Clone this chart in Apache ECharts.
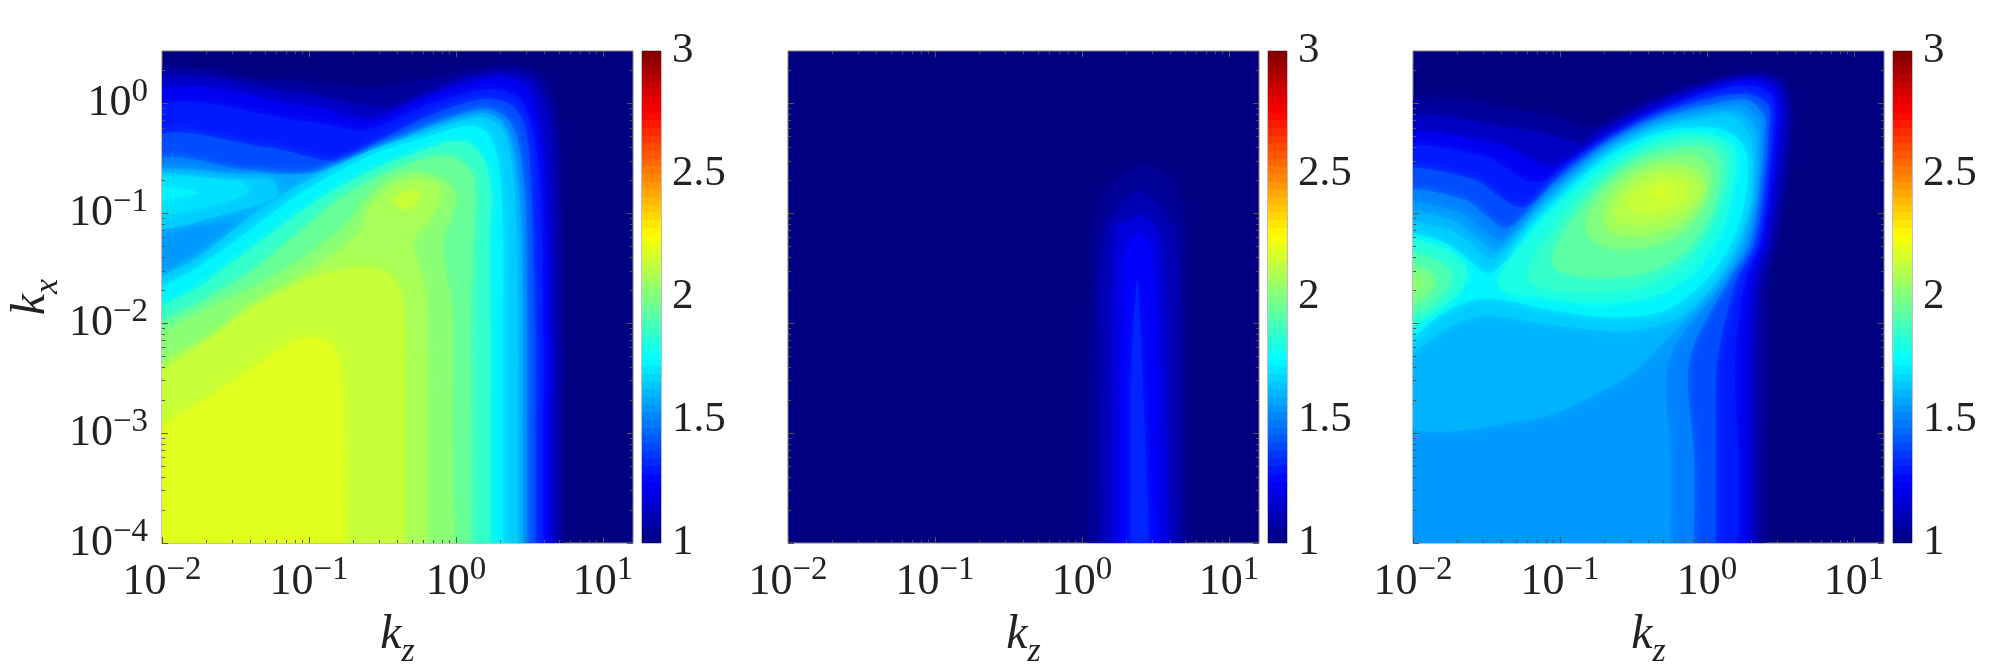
<!DOCTYPE html>
<html>
<head>
<meta charset="utf-8">
<style>
  html, body { margin: 0; background: #fff; }
  #chart { width: 2000px; height: 670px; }
</style>
<script src="https://cdn.jsdelivr.net/npm/echarts@6/dist/echarts.min.js"></script>
</head>
<body>
<div id="chart"></div>
<script>
// all contour points are [log10(kz), log10(kx)]
const kzTicks = [-2, -1, 0, 1]
const kxTicks = [-4, -3, -2, -1, 0]
const colorMax = [3]

const leftLevels = [1.05, 1.13, 1.22, 1.3, 1.4, 1.5, 1.58, 1.55, 1.65, 1.69, 1.73, 1.65, 1.73, 1.85, 1.95, 2.02, 2.08, 2.14, 2.14, 2.19]
const leftContours = [
  [[-2.1,.21],[-1.28,.21],[-.53,.13],[-.23,.21],[.075,.285],[.38,.32],[.56,.27],[.65,.09],[.695,-.245],[.715,-.85],[.725,-2.06],[.725,-3],[.725,-4],[.725,-4.8],[-2.8,-4.8]],
  [[-2.1,.12],[-1.1,.1],[-.6,-.03],[-.4,-.03],[-.2,.09],[.075,.23],[.33,.28],[.52,.22],[.6,.05],[.65,-.25],[.67,-.85],[.68,-2.06],[.68,-3],[.68,-4],[.68,-4.8],[-2.8,-4.8]],
  [[-2.1,.01],[-.98,-.03],[-.59,-.15],[-.23,.04],[.075,.18],[.29,.24],[.47,.16],[.54,-.03],[.6,-.55],[.635,-2.06],[.635,-3],[.635,-4],[.635,-4.8],[-2.8,-4.8]],
  [[-2.1,-.13],[-.98,-.17],[-.68,-.245],[-.53,-.215],[-.23,-.03],[.075,.10],[.255,.13],[.42,.06],[.51,-.18],[.57,-.7],[.595,-2.06],[.595,-3],[.595,-4],[.595,-4.8],[-2.8,-4.8]],
  [[-2.1,-.38],[-1.28,-.4],[-.83,-.53],[-.68,-.47],[-.53,-.35],[-.23,-.14],[.075,.01],[.225,.04],[.38,-.02],[.47,-.215],[.51,-.7],[.54,-2.06],[.54,-3],[.54,-4],[.54,-4.8],[-2.8,-4.8]],
  [[-2.1,-.58],[-1.4,-.61],[-.98,-.67],[-.8,-.61],[-.53,-.455],[-.23,-.23],[.075,-.08],[.225,-.05],[.35,-.14],[.42,-.335],[.47,-.85],[.485,-2.06],[.485,-3],[.485,-4],[.485,-4.8],[-2.8,-4.8]],
  [[-2.1,-.64],[-1.43,-.64],[-1.01,-.64],[-.8,-.56],[-.53,-.425],[-.23,-.245],[.075,-.11],[.21,-.09],[.32,-.18],[.39,-.425],[.44,-1],[.455,-2.06],[.455,-3],[.455,-4],[.455,-4.8],[-2.8,-4.8],[-2.8,-1.9],[-2.1,-1.62],[-1.8,-1.38],[-1.55,-1.2],[-1.39,-1.08],[-2.1,-1.18]],
  [[-2.1,-1.2],[-1.42,-1.1],[-1.56,-1.2],[-1.8,-1.38],[-2.1,-1.6]],
  [[-2.1,-.66],[-1.59,-.69],[-1.25,-.7],[-1.22,-.85],[-1.55,-1],[-2.1,-1.13]],
  [[-2.1,-.7],[-1.457,-.71],[-1.416,-.81],[-1.706,-.945],[-2.1,-1]],
  [[-2.1,-.76],[-1.75,-.81],[-2.1,-.88]],
  [[-2.1,-1.72],[-1.74,-1.39],[-1.4,-1.03],[-1.13,-.79],[-.83,-.58],[-.53,-.4],[-.23,-.275],[.045,-.155],[.195,-.13],[.32,-.245],[.38,-.547],[.41,-1.15],[.42,-2.06],[.42,-3],[.42,-4],[.42,-4.8],[-2.8,-4.8]],
  [[-2.1,-1.82],[-1.74,-1.48],[-1.4,-1.15],[-1.13,-.88],[-.83,-.64],[-.53,-.445],[-.23,-.32],[.015,-.22],[.14,-.21],[.23,-.3],[.29,-.547],[.32,-1.15],[.32,-2.06],[.32,-3],[.32,-4],[.32,-4.8],[-2.8,-4.8]],
  [[-2.1,-1.98],[-1.74,-1.665],[-1.4,-1.33],[-1.13,-1.06],[-.83,-.79],[-.53,-.58],[-.23,-.43],[-.02,-.345],[.105,-.38],[.2,-.55],[.24,-.87],[.225,-1.15],[.23,-2.06],[.23,-3],[.23,-4],[.23,-4.8],[-2.8,-4.8]],
  [[-2.1,-2.12],[-1.74,-1.815],[-1.4,-1.54],[-1.04,-1.15],[-.8,-.88],[-.53,-.67],[-.26,-.52],[-.045,-.48],[.1,-.61],[.13,-.87],[.12,-1.15],[.1,-2.06],[.105,-3],[.105,-4],[.105,-4.8],[-2.8,-4.8]],
  [[-2.1,-2.24],[-1.706,-1.88],[-1.367,-1.67],[-1.027,-1.4],[-.733,-1.096],[-.62,-.884],[-.462,-.703],[-.28,-.627],[-.077,-.703],[.002,-.854],[-.054,-1.096],[-.1,-1.248],[-.077,-1.49],[-.03,-1.88],[-.03,-3],[-.015,-4],[-.015,-4.8],[-2.8,-4.8]],
  [[-2.1,-2.5],[-1.59,-2.06],[-1.457,-1.88],[-1.14,-1.64],[-.824,-1.37],[-.643,-1.157],[-.586,-.945],[-.439,-.763],[-.258,-.688],[-.122,-.748],[-.104,-.87],[-.19,-1.066],[-.292,-1.248],[-.258,-1.46],[-.213,-1.7],[-.2,-2.3],[-.2,-3],[-.2,-4],[-.2,-4.8],[-2.8,-4.8]],
  [[-2.1,-2.6],[-1.74,-2.21],[-1.42,-1.9],[-.98,-1.59],[-.68,-1.5],[-.47,-1.54],[-.37,-1.755],[-.35,-2.36],[-.35,-3.2],[-.35,-4],[-.35,-4.8],[-2.8,-4.8]],
  [[-.428,-.9],[-.371,-.824],[-.258,-.794],[-.247,-.87],[-.337,-.96]],
  [[-2.1,-3.08],[-1.59,-2.6],[-1.1,-2.16],[-.98,-2.13],[-.85,-2.19],[-.79,-2.39],[-.76,-3],[-.755,-4],[-.755,-4.8],[-2.8,-4.8]]
]

const midLevels = [1.04, 1.1, 1.18, 1.24, 1.32]
const midContours = [
  [[.04,-4.8],[.04,-4],[.05,-2.5],[.08,-1.2],[.148,-.826],[.282,-.64],[.43,-.567],[.577,-.64],[.67,-.863],[.7,-1.2],[.706,-2.5],[.706,-4],[.706,-4.8]],
  [[.12,-4.8],[.12,-4],[.12,-2.5],[.12,-1.566],[.175,-1.12],[.282,-.9],[.39,-.807],[.5,-.9],[.62,-1.12],[.66,-1.6],[.66,-2.5],[.66,-4],[.66,-4.8]],
  [[.2,-4.8],[.2,-4],[.205,-2.5],[.23,-1.12],[.295,-1.085],[.384,-1.03],[.483,-1.1],[.54,-1.34],[.57,-2.5],[.59,-4],[.59,-4.8]],
  [[.26,-4.8],[.26,-4],[.26,-3],[.27,-1.94],[.295,-1.34],[.384,-1.18],[.456,-1.27],[.497,-1.75],[.52,-3],[.53,-4],[.53,-4.8]],
  [[.33,-4.8],[.33,-4],[.33,-3],[.34,-2.3],[.376,-1.6],[.4,-2.12],[.43,-3.05],[.456,-4],[.456,-4.8]]
]

const rightLevels = [1.05, 1.13, 1.22, 1.3, 1.4, 1.5, 1.55, 1.6, 1.65, 1.73, 1.82, 1.9, 1.98, 2.02, 1.8, 1.85, 1.93, 2, 2.06, 2.1, 2.14, 2.17]
const rightContours = [
  [[-2.1,-.08],[-1.15,-.09],[-.77,-.215],[-.5,-.06],[-.18,.12],[.09,.22],[.355,.27],[.515,.22],[.57,-.01],[.56,-.49],[.48,-1.25],[.41,-1.61],[.4,-2.34],[.395,-3],[.395,-4],[.395,-4.8],[-2.8,-4.8]],
  [[-2.1,-.22],[-1.3,-.23],[-.95,-.33],[-.86,-.38],[-.74,-.26],[-.4,-.02],[.07,.185],[.34,.24],[.49,.18],[.535,-.06],[.52,-.49],[.43,-1.25],[.36,-1.61],[.33,-2.34],[.33,-3],[.33,-4],[.33,-4.8],[-2.8,-4.8]],
  [[-2.1,-.37],[-1.43,-.37],[-1.14,-.55],[-1.03,-.58],[-.72,-.32],[-.34,-.05],[.06,.15],[.33,.21],[.46,.13],[.5,-.12],[.47,-.49],[.39,-1.25],[.31,-1.61],[.27,-2.34],[.275,-3],[.275,-4],[.275,-4.8],[-2.8,-4.8]],
  [[-2.1,-.476],[-1.5,-.49],[-1.23,-.703],[-1.1,-.703],[-.94,-.55],[-.69,-.335],[-.34,-.08],[.06,.12],[.315,.16],[.45,.057],[.45,-.25],[.44,-.49],[.36,-1.25],[.26,-1.61],[.19,-2.34],[.21,-3.2],[.21,-4],[.21,-4.8],[-2.8,-4.8]],
  [[-2.1,-.67],[-1.59,-.688],[-1.41,-.854],[-1.28,-.945],[-1.19,-.915],[-1,-.657],[-.69,-.35],[-.34,-.11],[.06,.06],[.3,.08],[.42,-.02],[.42,-.25],[.41,-.49],[.33,-1.25],[.2,-1.61],[.07,-2.34],[.06,-3.2],[.06,-4],[.06,-4.8],[-2.8,-4.8]],
  [[-2.1,-.854],[-1.66,-.87],[-1.49,-1.036],[-1.37,-1.14],[-1.25,-1.036],[-1.05,-.75],[-.69,-.38],[-.34,-.14],[.06,0],[.275,.03],[.395,-.12],[.39,-.25],[.38,-.49],[.3,-1.25],[.145,-1.61],[-.12,-2.34],[-.09,-3.2],[-.09,-4],[-.09,-4.8],[-2.8,-4.8]],
  [[-2.1,-.96],[-1.71,-.975],[-1.525,-1.14],[-1.4,-1.25],[-1.28,-1.14],[-1.07,-.824],[-.69,-.41],[-.34,-.17],[.06,-.04],[.25,-.02],[.36,-.15],[.36,-.25],[.36,-.49],[.27,-1.25],[.115,-1.61],[-.26,-2.34],[-.25,-3.2],[-.25,-4],[-.25,-4.8],[-2.8,-4.8]],
  [[-2.1,-1.036],[-1.75,-1.05],[-1.57,-1.22],[-1.43,-1.34],[-1.3,-1.187],[-1.095,-.885],[-.69,-.44],[-.34,-.2],[.03,-.09],[.21,-.08],[.32,-.2],[.335,-.49],[.24,-1.25],[.08,-1.61],[-.416,-2.34],[-.61,-2.54],[-1.15,-2.86],[-2.1,-2.88]],
  [[-2.1,-1.13],[-1.77,-1.14],[-1.6,-1.28],[-1.47,-1.42],[-1.32,-1.26],[-1.106,-.945],[-.69,-.47],[-.34,-.23],[0,-.13],[.17,-.12],[.29,-.28],[.308,-.43],[.308,-.854],[.206,-1.28],[.036,-1.67],[-.19,-1.945],[-.552,-2.07],[-1.14,-2],[-1.5,-1.93],[-1.75,-2.03],[-2.1,-2.31]],
  [[-2.1,-1.22],[-1.82,-1.25],[-1.615,-1.43],[-1.49,-1.55],[-1.34,-1.4],[-1.23,-1.187],[-1.095,-.99],[-.69,-.5],[-.34,-.27],[-.054,-.218],[.127,-.25],[.23,-.355],[.274,-.49],[.262,-.854],[.172,-1.25],[-.009,-1.61],[-.281,-1.88],[-.64,-1.945],[-1.095,-1.87],[-1.37,-1.79],[-1.57,-1.78],[-1.8,-1.91],[-2.1,-2.19]],
  [[-2.1,-1.263],[-1.8,-1.31],[-1.65,-1.46],[-1.63,-1.58],[-1.71,-1.76],[-1.86,-1.91],[-2.1,-2.065]],
  [[-2.1,-1.37],[-1.84,-1.43],[-1.74,-1.55],[-1.77,-1.7],[-1.91,-1.87],[-2.1,-1.945]],
  [[-2.1,-1.46],[-1.91,-1.52],[-1.85,-1.61],[-1.91,-1.76],[-2.1,-1.85]],
  [[-2.1,-1.55],[-1.92,-1.63],[-2.1,-1.76]],
  [[-1.423,-1.61],[-1.253,-1.28],[-.982,-.885],[-.643,-.521],[-.326,-.31],[-.032,-.279],[.172,-.37],[.195,-.642],[.104,-1.157],[-.1,-1.55],[-.371,-1.76],[-.778,-1.82],[-1.163,-1.76],[-1.367,-1.717]],
  [[-1.22,-1.55],[-1.095,-1.248],[-.869,-.854],[-.597,-.552],[-.28,-.355],[-.009,-.325],[.138,-.43],[.138,-.703],[.014,-1.157],[-.19,-1.49],[-.462,-1.67],[-.869,-1.717],[-1.163,-1.657]],
  [[-1.05,-1.4],[-.937,-1.097],[-.733,-.764],[-.462,-.491],[-.19,-.4],[.014,-.4],[.093,-.552],[.048,-.945],[-.122,-1.308],[-.371,-1.52],[-.733,-1.58],[-1.005,-1.52]],
  [[-.824,-1.127],[-.733,-.854],[-.552,-.627],[-.326,-.506],[-.077,-.476],[.025,-.627],[-.02,-.915],[-.167,-1.172],[-.416,-1.308],[-.71,-1.293]],
  [[-.7,-1.006],[-.597,-.763],[-.394,-.597],[-.145,-.567],[-.02,-.688],[-.043,-.885],[-.19,-1.097],[-.416,-1.2],[-.643,-1.172]],
  [[-.631,-.975],[-.552,-.794],[-.371,-.642],[-.167,-.627],[-.054,-.733],[-.066,-.854],[-.19,-1.006],[-.416,-1.112],[-.597,-1.082]],
  [[-.541,-.9],[-.439,-.763],[-.281,-.688],[-.145,-.733],[-.133,-.839],[-.235,-.945],[-.416,-1.006],[-.518,-.96]],
  [[-.382,-.824],[-.314,-.779],[-.247,-.8],[-.314,-.854]]
]

const FONT = '"Liberation Serif", serif'
const TEXT = '#222'
const LINE = '#808080'

function jet(v) {
  const t = (v - 1) / 2
  const c = x => Math.round(255 * Math.max(0, Math.min(1, x)))
  return 'rgb(' + c(Math.min(4 * t - 1.5, 4.5 - 4 * t)) + ',' + c(Math.min(4 * t - 0.5, 3.5 - 4 * t)) + ',' + c(Math.min(4 * t + 0.5, 2.5 - 4 * t)) + ')'
}

function minorTicks(lo, hi) {
  const out = []
  for (let d = lo; d <= hi; d++) {
    for (let m = 2; m < 10; m++) out.push(d + Math.log10(m))
  }
  return out
}

function powerLabel(v) {
  return '{b|10}{s|' + String(v).replace('-', '\u2212') + '}'
}
const powerRich = {
  b: { fontFamily: FONT, fontSize: 44, color: TEXT, lineHeight: 50, verticalAlign: 'bottom' },
  s: { fontFamily: FONT, fontSize: 33, color: TEXT, lineHeight: 50, verticalAlign: 'top' }
}
const nameRich = {
  k: { fontFamily: FONT, fontStyle: 'italic', fontSize: 48, color: TEXT, lineHeight: 50, verticalAlign: 'top' },
  s: { fontFamily: FONT, fontStyle: 'italic', fontSize: 34, color: TEXT, lineHeight: 58, verticalAlign: 'bottom' }
}

const panels = [
  { left: 162, levels: leftLevels, contours: leftContours, showKx: true },
  { left: 788, levels: midLevels, contours: midContours, showKx: false },
  { left: 1413, levels: rightLevels, contours: rightContours, showKx: false }
]
const plotW = 471, plotTop = 51, plotH = 492, barGap = 9, barW = 19

const grid = [], xAxis = [], yAxis = [], series = []

function tickAxis(base, extra) {
  return Object.assign({}, base, { axisLine: { show: false, onZero: false }, splitLine: { show: false }, axisLabel: { show: false } }, extra)
}

panels.forEach(function (p) {
  const g = grid.length
  grid.push({ left: p.left, top: plotTop, width: plotW, height: plotH, outerBoundsMode: 'none', show: true, backgroundColor: jet(1), borderColor: LINE, borderWidth: 1, z: 0 })
  const xBase = { type: 'value', gridIndex: g, min: -2, max: 1.204, interval: 1 }
  const yBase = { type: 'value', gridIndex: g, min: -4, max: 0.477, interval: 1 }
  const major = { inside: true, length: 6, lineStyle: { color: '#555', width: 1 } }
  const minor = { inside: true, length: 3, lineStyle: { color: '#555', width: 1 } }
  const kzMinor = minorTicks(-2, 1).filter(v => v < 1.204)
  const kxMinor = minorTicks(-4, 0).filter(v => v < 0.477)
  const xi = xAxis.length, yi = yAxis.length

  xAxis.push(Object.assign({}, xBase, {
    position: 'bottom', z: 5,
    name: '{k|k}{s|z}', nameLocation: 'middle', nameGap: 68,
    nameTextStyle: { rich: nameRich },
    axisLine: { show: false, onZero: false }, splitLine: { show: false },
    axisTick: Object.assign({ customValues: kzTicks }, major),
    axisLabel: { customValues: kzTicks, margin: 11, formatter: powerLabel, rich: powerRich }
  }))
  xAxis.push(tickAxis(xBase, { position: 'top', z: 5, axisTick: Object.assign({ customValues: kzTicks }, major) }))
  xAxis.push(tickAxis(xBase, { position: 'bottom', z: 5, axisTick: Object.assign({ customValues: kzMinor }, minor) }))
  xAxis.push(tickAxis(xBase, { position: 'top', z: 5, axisTick: Object.assign({ customValues: kzMinor }, minor) }))

  yAxis.push(Object.assign({}, yBase, {
    position: 'left', z: 5,
    name: p.showKx ? '{k|k}{s|x}' : '', nameLocation: 'middle', nameGap: 93, nameRotate: 90,
    nameTextStyle: { rich: nameRich },
    axisLine: { show: false, onZero: false }, splitLine: { show: false },
    axisTick: Object.assign({ customValues: kxTicks }, major),
    axisLabel: { show: p.showKx, customValues: kxTicks, margin: 14, padding: [0, 0, 5, 0], formatter: powerLabel, rich: powerRich }
  }))
  yAxis.push(tickAxis(yBase, { position: 'right', z: 5, axisTick: Object.assign({ customValues: kxTicks }, major) }))
  yAxis.push(tickAxis(yBase, { position: 'left', z: 5, axisTick: Object.assign({ customValues: kxMinor }, minor) }))
  yAxis.push(tickAxis(yBase, { position: 'right', z: 5, axisTick: Object.assign({ customValues: kxMinor }, minor) }))

  // filled contours, painted from the lowest level up
  series.push({
    type: 'custom',
    xAxisIndex: xi, yAxisIndex: yi,
    clip: true, silent: true, animation: false, z: 2,
    data: p.levels.map(function (l, i) { return [i, l] }),
    encode: { x: [], y: [] },
    renderItem: function (params, api) {
      const i = api.value(0)
      const color = jet(p.levels[i])
      return {
        type: 'polygon',
        shape: { points: p.contours[i].map(pt => api.coord(pt)), smooth: 0.3 },
        style: { fill: color, shadowBlur: 10, shadowColor: color }
      }
    }
  })

  // colorbar
  const cg = grid.length
  grid.push({ left: p.left + plotW + barGap, top: plotTop, width: barW, height: plotH, outerBoundsMode: 'none', show: true, borderColor: LINE, borderWidth: 1, z: 0 })
  const cx = xAxis.length, cy = yAxis.length
  xAxis.push({ type: 'category', gridIndex: cg, data: [''], show: false })
  yAxis.push({
    type: 'value', gridIndex: cg, min: 1, max: 3, interval: 0.5, position: 'right', z: 5,
    axisLine: { show: false }, splitLine: { show: false },
    axisTick: { inside: true, length: 4, lineStyle: { color: '#555' } },
    axisLabel: { margin: 11, fontFamily: FONT, fontSize: 43, color: TEXT, formatter: v => String(v) }
  })
  const stops = []
  for (let n = 0; n < 64; n++) {
    const col = jet(3 - 2 * (n + 0.5) / 64)
    stops.push({ offset: n / 64, color: col }, { offset: (n + 1) / 64, color: col })
  }
  series.push({
    type: 'bar', xAxisIndex: cx, yAxisIndex: cy, data: colorMax, barWidth: '100%', silent: true, animation: false,
    itemStyle: { color: new echarts.graphic.LinearGradient(0, 0, 0, 1, stops) }
  })
})

const chart = echarts.init(document.getElementById('chart'), null, { renderer: 'canvas' })
chart.setOption({ animation: false, backgroundColor: '#fff', tooltip: { show: false }, grid: grid, xAxis: xAxis, yAxis: yAxis, series: series })
</script>
</body>
</html>
